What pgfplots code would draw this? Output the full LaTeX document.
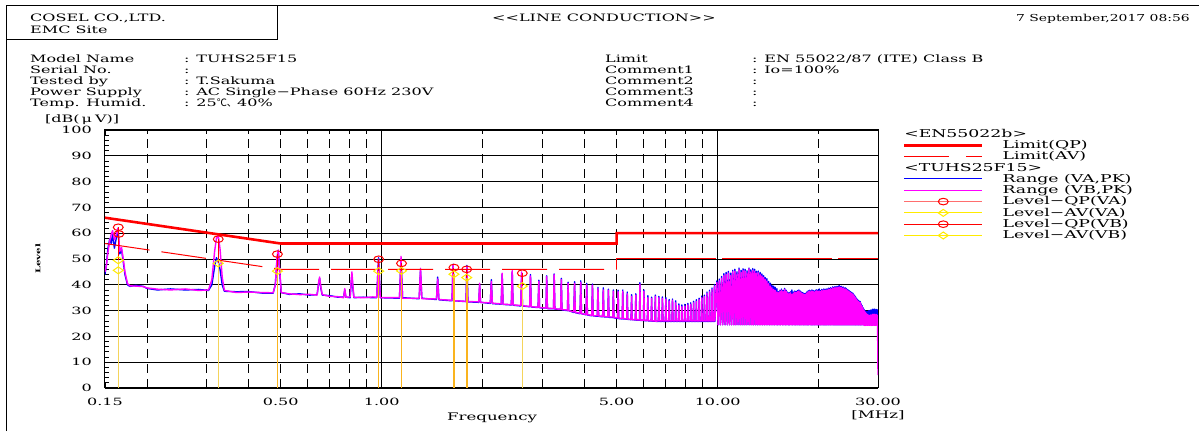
\documentclass[border=0pt]{standalone}
\usepackage{pgfplots}
\pgfplotsset{compat=1.18}
\usepackage{pgfplotstable}
\usepackage{fontspec}
\setmainfont{DejaVu Serif}[FakeStretch=1.57]
\newfontfamily\narrowhd{DejaVu Serif}[FakeStretch=1.45]
\newfontfamily\wide{DejaVu Serif}[FakeStretch=1.6]
\newfontfamily\cjk{Noto Sans CJK JP}

\definecolor{specA}{RGB}{0,0,255}
\definecolor{specB}{RGB}{255,0,255}
\definecolor{lim}{RGB}{255,0,0}
\definecolor{qpA}{RGB}{255,110,110}
\definecolor{mkY}{RGB}{255,235,0}
\definecolor{stemY}{RGB}{245,212,90}
\definecolor{stemO}{RGB}{250,180,30}

\newcommand\hdfont{\fontsize{10.2}{11}\selectfont}
\newcommand\tickfont{\wide\fontsize{10}{11}\selectfont}
\newcommand\legfont{\wide\fontsize{10.8}{12}\selectfont}
\newcommand\axfont{\wide\fontsize{10.4}{12}\selectfont}
\newcommand\ls{\rule[-3.3pt]{0pt}{11.3pt}}

% spectrum: f [MHz], peak detector VA, VB [dBuV]
\pgfplotstableread{
f va vb
0.1500 44.0 45.0
0.1515 48.0 47.5
0.1530 54.0 52.5
0.1550 57.8 57.0
0.1565 56.0 59.5
0.1580 59.5 61.0
0.1600 54.2 57.5
0.1620 58.0 59.5
0.1640 61.0 62.0
0.1660 52.0 53.0
0.1680 53.6 54.5
0.1700 49.0 50.0
0.1720 44.0 45.0
0.1750 40.0 40.5
0.1780 39.4 39.6
0.1850 39.8 39.5
0.1950 39.4 39.3
0.2000 38.6 38.8
0.2150 38.0 38.3
0.2350 38.4 38.0
0.2600 38.0 38.4
0.2850 38.2 37.8
0.3050 37.8 38.0
0.3120 40.0 42.0
0.3180 47.0 53.0
0.3220 50.5 58.0
0.3260 49.0 59.0
0.3300 46.0 54.0
0.3350 40.0 43.0
0.3400 37.5 37.8
0.3700 37.3 37.0
0.4000 37.4 37.2
0.4400 36.8 37.0
0.4750 36.8 36.9
0.4820 40.0 40.0
0.4880 50.0 51.0
0.4920 53.0 53.5
0.4960 46.0 47.0
0.5020 37.0 37.0
0.5300 36.3 36.5
0.5700 36.5 36.2
0.6100 36.0 36.3
0.6420 36.2 36.0
0.6480 40.0 40.5
0.6530 42.5 43.0
0.6590 38.5 39.0
0.6650 36.0 36.2
0.7000 35.8 35.5
0.7400 35.2 35.4
0.7700 35.3 35.0
0.7760 38.0 38.5
0.7820 35.2 35.2
0.8050 35.0 35.3
0.8100 40.0 41.0
0.8150 44.0 45.0
0.8200 39.0 40.0
0.8260 35.0 35.2
0.8800 35.2 35.0
0.9400 35.0 35.3
0.966 35.0 35.2
0.978 50.5 50.0
0.990 35.0 35.0
1.129 34.8 35.0
1.141 50.0 51.0
1.153 35.0 34.8
1.292 34.6 34.8
1.304 45.5 46.4
1.316 34.8 34.6
1.455 34.3 34.5
1.467 43.0 42.2
1.479 34.2 34.3
1.618 33.8 34.0
1.630 48.0 47.7
1.642 33.8 33.8
1.781 33.5 33.6
1.793 47.5 47.0
1.805 33.4 33.5
1.944 33.2 33.4
1.956 40.0 40.6
1.968 33.2 33.2
2.104 32.8 33.0
2.119 42.0 41.3
2.134 32.7 32.9
2.267 32.5 32.6
2.282 44.0 44.5
2.297 32.4 32.5
2.430 32.2 32.3
2.445 45.0 45.5
2.460 32.1 32.2
2.593 31.8 32.0
2.608 44.0 45.0
2.623 31.8 31.9
2.756 31.5 31.6
2.771 44.0 43.4
2.786 31.4 31.5
2.919 31.2 31.3
2.934 41.8 41.3
2.949 31.1 31.2
3.082 31.0 31.0
3.097 43.5 43.2
3.112 30.8 30.9
3.245 30.7 30.8
3.260 44.2 43.9
3.275 30.6 30.7
3.408 30.4 30.5
3.423 42.5 42.0
3.438 30.3 30.4
3.571 30.0 30.2
3.586 41.0 40.6
3.601 30.0 30.0
3.729 29.3 29.5
3.749 41.2 40.5
3.769 29.2 29.3
3.892 28.8 29.0
3.912 41.5 41.0
3.932 28.8 28.8
4.055 28.4 28.5
4.075 40.6 40.0
4.095 28.3 28.4
4.218 28.0 28.2
4.238 40.3 39.8
4.258 28.0 28.0
4.381 27.8 28.0
4.401 39.0 38.5
4.421 27.8 27.9
4.544 27.6 27.8
4.564 38.8 38.0
4.584 27.6 27.7
4.707 27.5 27.6
4.727 38.3 37.9
4.747 27.4 27.5
4.870 27.3 27.5
4.890 38.0 37.5
4.910 27.2 27.3
5.033 27.0 27.2
5.053 37.9 37.3
5.073 26.9 27.0
5.196 26.8 27.0
5.216 38.0 37.5
5.236 26.8 26.9
5.359 26.7 26.8
5.379 37.2 36.5
5.399 26.6 26.7
5.522 26.5 26.6
5.542 36.2 35.5
5.562 26.5 26.5
5.685 26.4 26.5
5.705 36.5 36.0
5.725 26.3 26.4
5.848 26.3 26.4
5.868 40.8 40.2
5.888 26.2 26.3
6.011 26.2 26.3
6.031 38.0 37.5
6.051 26.1 26.2
6.174 26.1 26.2
6.194 35.8 35.0
6.214 26.0 26.1
6.337 26.0 26.1
6.357 35.2 34.7
6.377 25.9 26.0
6.500 25.9 26.0
6.520 36.0 35.5
6.540 25.8 25.9
6.658 25.8 26.0
6.683 35.5 35.0
6.708 25.8 26.0
6.821 25.8 26.0
6.846 35.3 34.7
6.871 25.8 26.0
6.984 25.8 26.0
7.009 35.0 34.4
7.034 25.8 26.0
7.147 25.8 26.0
7.172 34.3 33.7
7.197 25.8 26.0
7.310 25.8 26.0
7.335 34.5 34.0
7.360 25.8 26.0
7.473 25.8 26.0
7.498 33.8 33.0
7.523 25.8 26.0
7.636 25.8 26.0
7.661 32.6 32.0
7.686 25.8 26.0
7.799 25.8 26.0
7.824 32.2 31.5
7.849 25.8 26.0
7.962 25.8 26.0
7.987 32.4 31.8
8.012 25.8 26.0
8.125 25.8 26.0
8.150 32.8 32.2
8.175 25.8 26.0
8.288 25.8 26.0
8.313 33.0 32.4
8.338 25.8 26.0
8.451 25.8 26.0
8.476 33.6 33.0
8.501 25.8 26.0
8.614 25.8 26.0
8.639 34.2 33.5
8.664 25.8 26.0
8.777 25.8 26.0
8.802 34.8 34.2
8.827 25.8 26.0
8.940 25.8 26.0
8.965 35.6 35.0
8.990 25.8 26.0
9.103 25.8 26.0
9.128 36.0 35.4
9.153 25.8 26.0
9.266 25.8 26.0
9.291 37.2 36.6
9.316 25.8 26.0
9.429 25.8 26.0
9.454 37.9 37.3
9.479 25.8 26.0
9.592 25.8 26.0
9.617 38.7 38.1
9.642 25.8 26.0
9.755 25.8 26.0
9.780 40.1 39.5
9.805 25.8 26.0
9.943 41.5 40.9
10.0245 24.5 24.5
10.106 42.2 41.5
10.1875 24.5 24.5
10.269 43.2 42.5
10.3505 24.5 24.5
10.432 44.3 43.5
10.5135 24.5 24.5
10.595 44.8 44.0
10.6765 24.5 24.5
10.758 45.2 44.5
10.8395 24.5 24.5
10.921 44.5 43.5
11.0025 24.5 24.5
11.084 45.6 45.0
11.1655 24.5 24.5
11.247 46.0 45.3
11.3285 24.5 24.5
11.410 45.0 44.2
11.4915 24.5 24.5
11.573 46.5 45.9
11.6545 24.5 24.5
11.736 45.6 44.8
11.8175 24.5 24.5
11.899 46.2 45.5
11.9805 24.5 24.5
12.062 46.0 45.3
12.1435 24.5 24.5
12.225 45.4 44.6
12.3065 24.5 24.5
12.388 46.5 46.2
12.4695 24.5 24.5
12.551 45.8 45.0
12.6325 24.5 24.5
12.714 46.3 45.6
12.7955 24.5 24.5
12.877 46.0 45.3
12.9585 24.5 24.5
13.040 45.2 44.5
13.1215 24.5 24.5
13.203 45.3 44.6
13.2845 24.5 24.5
13.366 44.8 44.0
13.4475 24.5 24.5
13.529 44.2 43.4
13.6105 24.5 24.5
13.692 43.5 42.8
13.7735 24.5 24.5
13.855 42.8 42.0
13.9365 24.5 24.5
14.018 42.3 41.3
14.0995 24.5 24.5
14.181 41.3 40.4
14.2625 24.5 24.5
14.344 40.6 39.5
14.4255 24.5 24.5
14.507 39.8 38.8
14.5885 24.5 24.5
14.670 39.5 38.2
14.7515 24.5 24.5
14.833 39.0 37.8
14.9145 24.5 24.5
14.996 38.5 37.2
15.0775 24.5 24.5
15.159 37.3 36.9
15.2405 24.5 24.5
15.322 37.9 37.5
15.4035 24.5 24.5
15.485 38.3 37.9
15.5665 24.5 24.5
15.648 37.8 37.4
15.7295 24.5 24.5
15.811 38.6 38.2
15.8925 24.5 24.5
15.974 37.9 37.5
16.0555 24.5 24.5
16.137 37.2 36.8
16.2185 24.5 24.5
16.300 36.9 36.5
16.3815 24.5 24.5
16.463 37.3 36.9
16.5445 24.5 24.5
16.626 38.0 36.3
16.7075 24.5 24.5
16.789 37.2 36.8
16.8705 24.5 24.5
16.952 37.6 37.2
17.0335 24.5 24.5
17.115 37.4 37.0
17.1965 24.5 24.5
17.278 37.8 37.4
17.3595 24.5 24.5
17.441 38.0 37.6
17.5225 24.5 24.5
17.604 37.6 37.2
17.6855 24.5 24.5
17.767 37.2 36.8
17.8485 24.5 24.5
17.930 36.9 36.5
18.0115 24.5 24.5
18.093 36.6 36.2
18.1745 24.5 24.5
18.256 36.7 36.3
18.3375 24.5 24.5
18.419 37.2 36.8
18.5005 24.5 24.5
18.582 37.6 37.2
18.6635 24.5 24.5
18.745 37.9 37.5
18.8265 24.5 24.5
18.908 37.6 37.2
18.9895 24.5 24.5
19.071 38.0 37.6
19.1525 24.5 24.5
19.234 37.8 37.4
19.3155 24.5 24.5
19.397 37.5 37.1
19.4785 24.5 24.5
19.560 37.9 37.5
19.6415 24.5 24.5
19.723 38.1 37.7
19.8045 24.5 24.5
19.886 37.8 37.4
19.9675 24.5 24.5
20.049 38.4 37.6
20.1305 24.5 24.5
20.212 37.7 37.3
20.2935 24.5 24.5
20.375 38.2 37.8
20.4565 24.5 24.5
20.538 38.0 37.6
20.6195 24.5 24.5
20.701 38.4 38.0
20.7825 24.5 24.5
20.864 38.1 37.7
20.9455 24.5 24.5
21.027 38.4 38.0
21.1085 24.5 24.5
21.190 38.2 37.8
21.2715 24.5 24.5
21.353 38.7 38.3
21.4345 24.5 24.5
21.516 38.5 38.1
21.5975 24.5 24.5
21.679 38.9 38.5
21.7605 24.5 24.5
21.842 38.6 38.2
21.9235 24.5 24.5
22.005 39.2 38.8
22.0865 24.5 24.5
22.168 38.9 38.5
22.2495 24.5 24.5
22.331 39.3 38.9
22.4125 24.5 24.5
22.494 39.0 38.6
22.5755 24.5 24.5
22.657 39.4 39.0
22.7385 24.5 24.5
22.820 39.2 38.8
22.9015 24.5 24.5
22.983 39.7 39.2
23.0645 24.5 24.5
23.146 39.3 38.9
23.2275 24.5 24.5
23.309 39.4 39.0
23.3905 24.5 24.5
23.472 39.0 38.6
23.5535 24.5 24.5
23.635 39.1 38.7
23.7165 24.5 24.5
23.798 38.7 38.3
23.8795 24.5 24.5
23.961 38.8 38.4
24.0425 24.5 24.5
24.124 38.6 38.2
24.2055 24.5 24.5
24.287 38.2 37.8
24.3685 24.5 24.5
24.450 38.0 37.6
24.5315 24.5 24.5
24.613 37.7 37.3
24.6945 24.5 24.5
24.776 37.4 37.0
24.8575 24.5 24.5
24.939 37.2 36.8
25.0205 24.5 24.5
25.102 36.9 36.5
25.1835 24.5 24.5
25.265 36.7 36.3
25.3465 24.5 24.5
25.428 36.2 35.8
25.5095 24.5 24.5
25.591 35.7 35.3
25.6725 24.5 24.5
25.754 35.2 34.8
25.8355 24.5 24.5
25.917 34.7 34.3
25.9985 24.5 24.5
26.080 34.2 33.8
26.1615 24.5 24.5
26.243 33.9 33.5
26.3245 24.5 24.5
26.406 33.6 33.2
26.4875 24.5 24.5
26.569 33.5 33.1
26.6505 24.5 24.5
26.732 32.6 32.2
26.8135 24.5 24.5
26.895 31.9 31.5
26.9765 24.5 24.5
27.058 31.2 30.8
27.1395 24.5 24.5
27.221 30.6 30.2
27.3025 27.0 24.3
27.384 30.0 29.6
27.4655 27.0 24.3
27.547 29.8 29.2
27.6285 27.0 24.3
27.710 29.6 28.8
27.7915 27.0 24.3
27.873 29.5 28.5
27.9545 27.0 24.3
28.036 29.8 28.3
28.1175 27.0 24.3
28.199 30.0 28.2
28.2805 27.0 24.3
28.362 29.9 28.0
28.4435 27.0 24.3
28.525 30.2 28.3
28.6065 27.0 24.3
28.688 30.0 28.2
28.7695 27.0 24.3
28.851 30.5 28.5
28.9325 27.0 24.3
29.014 30.5 28.6
29.0955 27.0 24.3
29.177 30.3 28.4
29.2585 27.0 24.3
29.340 30.6 28.6
29.4215 27.0 24.3
29.503 30.2 28.3
29.5845 27.0 24.3
29.666 30.4 28.5
29.7475 27.0 24.3
29.829 30.3 28.2
29.9105 27.0 24.3
30.000 28.0 5.0
}\spec

% final measurements: f [MHz], level [dBuV]
\pgfplotstableread{
f l
0.1643 62.3
0.326 57.7
2.620 44.5
}\qpva
\pgfplotstableread{
f l
0.1650 59.7
0.489 51.9
0.979 49.9
1.145 48.3
1.640 46.7
1.790 46.0
}\qpvb
\pgfplotstableread{
f l
0.1643 49.5
0.1643 45.6
0.326 48.3
2.620 39.5
}\avva
\pgfplotstableread{
f l
0.489 45.3
0.979 45.3
1.145 45.4
1.640 44.1
1.790 42.8
}\avvb

\begin{document}
\begin{tikzpicture}[txt/.style={inner sep=0pt, font=\hdfont}]
\path[use as bounding box] (0,0) rectangle (1199pt,431pt);

% page frame and header box
\draw[line width=1pt] (6pt,0pt) -- (6pt,425pt) -- (1199pt,425pt);
\draw[line width=1pt] (6pt,391.5pt) -- (277pt,391.5pt) -- (277pt,425pt);

\node[txt, anchor=base west] at (30pt,409.5pt) {COSEL CO.,LTD.};
\node[txt, anchor=base west] at (30pt,397pt) {EMC Site};
\node[txt, anchor=base west] at (492pt,409.5pt) {<{}<LINE CONDUCTION>{}>};
\node[inner sep=0pt, font=\narrowhd\fontsize{9.6}{11}\selectfont, anchor=base east] at (1190pt,409.5pt) {7 September,2017 08:56};

\foreach \lab/\val [count=\i] in {Model Name/{: TUHS25F15}, Serial No./{:}, Tested by/{: T.Sakuma}, Power Supply/{: AC Single−Phase 60Hz 230V}, Temp. Humid./{: 25{\cjk ℃、}40\%}} {
  \node[txt, anchor=base west] at (30pt,379.5pt-\i*11pt) {\lab};
  \node[txt, anchor=base west] at (184pt,379.5pt-\i*11pt) {\val};
}
\foreach \lab/\val [count=\i] in {Limit/{: EN 55022/87 (ITE) Class B}, Comment1/{: Io=100\%}, Comment2/{:}, Comment3/{:}, Comment4/{:}} {
  \node[txt, anchor=base west] at (605pt,379.5pt-\i*11pt) {\lab};
  \node[txt, anchor=base west] at (752pt,379.5pt-\i*11pt) {\val};
}
\node[txt, anchor=base west] at (45pt,308pt) {[dB(\kern2ptμ\kern3pt V)]};

\begin{axis}[
  at={(105pt,43pt)}, anchor=south west,
  scale only axis, width=773pt, height=258pt,
  xmode=log, xmin=0.15, xmax=30, ymin=0, ymax=100,
  axis line style={black, line width=1pt},
  xtick={0.15,0.5,1,5,10,30},
  xticklabels={0.15,0.50,1.00,5.00,10.00,30.00},
  minor xtick={0.2,0.3,0.4,0.5,0.6,0.7,0.8,0.9,2,3,4,5,6,7,8,9,20},
  xminorgrids=true,
  minor grid style={black, line width=0.8pt, dash pattern=on 9pt off 6pt},
  extra x ticks={1,10}, extra x tick labels={},
  extra x tick style={grid=major, major grid style={black, line width=1.1pt}},
  ytick={0,10,...,100},
  yticklabels={0,10,20,30,40,50,60,70,80,90,100},
  minor y tick num=4,
  ymajorgrids=true,
  major grid style={black, line width=0.8pt},
  ytick pos=left, tick align=inside,
  major tick length=5pt, minor tick length=4pt,
  tick style={black, line width=0.8pt},
  xticklabel style={font=\tickfont, inner sep=0pt, yshift=-10pt},
  yticklabel style={font=\tickfont, inner sep=0pt, xshift=-13pt},
  legend style={at={(1.0323,1.0027)}, anchor=north west, draw=none, fill=none,
    inner sep=0pt, outer sep=0pt, font=\legfont, row sep=1.6pt,
    nodes={inner sep=0pt},
    /tikz/every odd column/.append style={column sep=19pt}},
  legend cell align=left,
  legend image code/.code={\draw[mark repeat=2, mark phase=2, #1] plot coordinates {(0pt,0pt) (39pt,0pt) (78pt,0pt)};},
]
% measured spectra
\addplot[forget plot, specA, line width=1.4pt, line join=round] table[x=f, y=va] {\spec};
\addplot[forget plot, specB, line width=1.4pt, line join=round] table[x=f, y=vb] {\spec};

% EN 55022 class B limits
\addplot[forget plot, lim, line width=2.6pt] coordinates {(0.15,66) (0.5,56) (5,56) (5,60) (30,60)};
\addplot[forget plot, lim, line width=1pt, dash pattern=on 45pt off 12pt] coordinates {(0.15,56) (0.5,46) (5,46)};
\addplot[forget plot, lim, line width=1pt, dash pattern=on 110pt off 6pt] coordinates {(5,46) (5,50) (30,50)};

% final measurements
\addplot[forget plot, ycomb, draw=lim, line width=0.9pt, mark=o, mark size=3.3pt,
  mark options={solid, draw=lim, line width=1pt, xscale=1.5}] table[x=f, y=l] {\qpva};
\addplot[forget plot, ycomb, draw=lim, line width=0.9pt, mark=o, mark size=3.3pt,
  mark options={solid, draw=lim, line width=1pt, xscale=1.5}] table[x=f, y=l] {\qpvb};
\addplot[forget plot, ycomb, draw=stemY, line width=1pt, mark=diamond, mark size=3.5pt,
  mark options={solid, draw=mkY, line width=1pt, xscale=1.9}] table[x=f, y=l] {\avva};
\addplot[forget plot, ycomb, draw=stemO, line width=1.6pt, mark=diamond, mark size=3.5pt,
  mark options={solid, draw=mkY, line width=1pt, xscale=1.9}] table[x=f, y=l] {\avvb};

% legend
\addlegendimage{legend image code/.code={\node[overlay, anchor=west, inner sep=0pt, font=\legfont] at (0pt,0pt) {<EN55022b>};}}
\addlegendentry{\ls}
\addlegendimage{lim, line width=2.6pt}
\addlegendentry{\ls Limit(QP)}
\addlegendimage{lim, line width=1pt, dash pattern=on 45pt off 17pt}
\addlegendentry{\ls Limit(AV)}
\addlegendimage{legend image code/.code={\node[overlay, anchor=west, inner sep=0pt, font=\legfont] at (0pt,0pt) {<TUHS25F15>};}}
\addlegendentry{\ls}
\addlegendimage{specA, line width=1pt}
\addlegendentry{\ls Range (VA,PK)}
\addlegendimage{specB, line width=1pt}
\addlegendentry{\ls Range (VB,PK)}
\addlegendimage{qpA, line width=1pt, mark=o, mark size=3.3pt, mark options={solid, draw=lim, xscale=1.5}}
\addlegendentry{\ls Level−QP(VA)}
\addlegendimage{mkY, line width=1pt, mark=diamond, mark size=3.5pt, mark options={solid, draw=mkY, xscale=1.9}}
\addlegendentry{\ls Level−AV(VA)}
\addlegendimage{lim, line width=1pt, mark=o, mark size=3.3pt, mark options={solid, draw=lim, xscale=1.5}}
\addlegendentry{\ls Level−QP(VB)}
\addlegendimage{mkY, line width=1pt, mark=diamond, mark size=3.5pt, mark options={solid, draw=mkY, xscale=1.9}}
\addlegendentry{\ls Level−AV(VB)}
\end{axis}

\node[inner sep=0pt, font=\axfont] at (492pt,13pt) {Frequency};
\node[inner sep=0pt, font=\axfont] at (878pt,16pt) {[MHz]};
\node[inner sep=0pt, font=\fontsize{6.5}{7}\selectfont\bfseries, rotate=90] at (38pt,172pt) {Level};
\end{tikzpicture}
\end{document}
